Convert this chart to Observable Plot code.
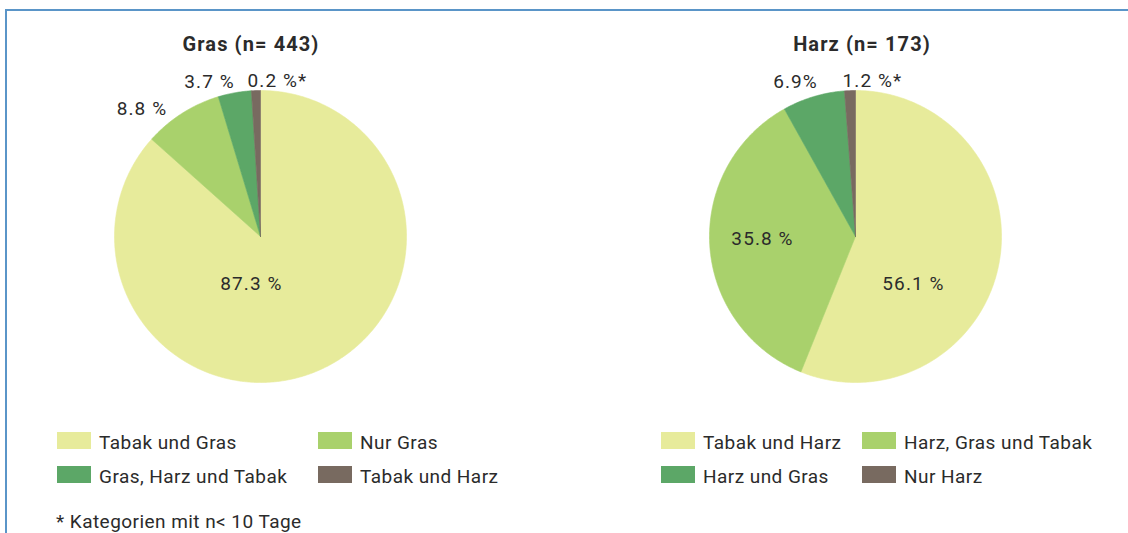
<!DOCTYPE html>
<html>
<head>
<meta charset="utf-8">
<script src="https://cdn.jsdelivr.net/npm/d3@7"></script>
<script src="https://cdn.jsdelivr.net/npm/@observablehq/plot@0.6"></script>
<style>
  body { margin: 0; background: #ffffff; }
  #root { position: relative; width: 1128px; height: 533px; overflow: hidden; font-family: Roboto, "Noto Sans", sans-serif; color: #2b2b2b; }
  #frame { position: absolute; left: 5px; top: 9px; right: -10px; bottom: -10px; border-top: 2px solid #5a95c8; border-left: 2px solid #5a95c8; pointer-events: none; }
  .panel { position: absolute; top: 0; width: 564px; height: 400px; }
  .title { position: absolute; width: 300px; text-align: center; font-weight: 700; font-size: 20px; letter-spacing: 1.1px; line-height: 22px; top: 33px; color: #2b2b2b; }
  .swatch { position: absolute; width: 34px; height: 17px; }
  .ltext { position: absolute; font-size: 19px; letter-spacing: 0.45px; line-height: 19px; white-space: nowrap; color: #2b2b2b; }
  #note { position: absolute; left: 56px; top: 512px; font-size: 19px; letter-spacing: 0.45px; line-height: 19px; white-space: nowrap; color: #2b2b2b; }
</style>
</head>
<body>
<div id="root"></div>
<script>
// ---- data ----
const grasTitle = "Gras (n= 443)";
const grasCategories = ["Tabak und Gras", "Nur Gras", "Gras, Harz und Tabak", "Tabak und Harz"];
const grasValues = [87.3, 8.8, 3.7, 0.2];
const grasLabels = ["87.3 %", "8.8 %", "3.7 %", "0.2 %*"];

const harzTitle = "Harz (n= 173)";
const harzCategories = ["Tabak und Harz", "Harz, Gras und Tabak", "Harz und Gras", "Nur Harz"];
const harzValues = [56.1, 35.8, 6.9, 1.2];
const harzLabels = ["56.1 %", "35.8 %", "6.9%", "1.2 %*"];

const sliceColors = ["#e7eb9b", "#a9d16c", "#5ca767", "#786a60"];
const footnote = "* Kategorien mit n< 10 Tage";

// ---- layout (positions/styles only) ----
const R = 146;
const minVisibleShare = 1; // small slices are drawn at least this wide (in %)
const layouts = [
  { left: 0, cx: 260, cy: 236, titleX: 251,
    labelPos: [[-0.062, 0.324], [-0.812, -0.873], [-0.349, -1.058], [0.116, -1.065]],
    legendX: [57, 318], legendY: [432, 466] },
  { left: 564, cx: 291, cy: 236, titleX: 862 - 564,
    labelPos: [[0.397, 0.325], [-0.637, 0.017], [-0.411, -1.058], [0.116, -1.068]],
    legendX: [661 - 564, 862 - 564], legendY: [432, 466] }
];

const charts = [
  { title: grasTitle, categories: grasCategories, values: grasValues, labels: grasLabels },
  { title: harzTitle, categories: harzCategories, values: harzValues, labels: harzLabels }
];

const root = document.getElementById("root");

charts.forEach((c, ci) => {
  const L = layouts[ci];
  const drawn = c.values.map(v => Math.max(v, minVisibleShare));
  const pie = d3.pie().sort(null).value(d => d)(drawn);
  const rows = [];
  pie.forEach((p, i) => {
    const key = c.categories[i];
    rows.push({ key, x: 0, y: 0 });
    const steps = Math.max(2, Math.ceil((p.endAngle - p.startAngle) / (Math.PI / 360)));
    for (let s = 0; s <= steps; s++) {
      const a = p.startAngle + (p.endAngle - p.startAngle) * s / steps;
      rows.push({ key, x: Math.sin(a), y: -Math.cos(a) });
    }
    rows.push({ key, x: 0, y: 0 });
  });
  const labelRows = c.labels.map((t, i) => ({ text: t, x: L.labelPos[i][0], y: L.labelPos[i][1] }));

  const plot = Plot.plot({
    width: 564,
    height: 400,
    margin: 0,
    style: { background: "transparent", fontFamily: "Roboto, 'Noto Sans', sans-serif", overflow: "visible", letterSpacing: "1.1px" },
    x: { domain: [-1, 1], range: [L.cx - R, L.cx + R], axis: null },
    y: { domain: [-1, 1], range: [L.cy - R, L.cy + R], axis: null },
    color: { domain: c.categories, range: sliceColors },
    marks: [
      Plot.line(rows, { x: "x", y: "y", z: "key", fill: "key", stroke: "key", strokeWidth: 0.6, curve: "linear" }),
      Plot.text(labelRows, { x: "x", y: "y", text: "text", fontSize: 19, fill: "#2b2b2b", textAnchor: "middle", lineAnchor: "middle" })
    ]
  });
  const panel = document.createElement("div");
  panel.className = "panel";
  panel.style.left = L.left + "px";
  panel.appendChild(plot);
  root.appendChild(panel);

  const title = document.createElement("div");
  title.className = "title";
  title.textContent = c.title;
  title.style.left = (L.left + L.titleX - 150) + "px";
  root.appendChild(title);

  c.categories.forEach((cat, i) => {
    const col = i % 2, row = Math.floor(i / 2);
    const sw = document.createElement("div");
    sw.className = "swatch";
    sw.style.background = sliceColors[i];
    sw.style.left = (L.left + L.legendX[col]) + "px";
    sw.style.top = L.legendY[row] + "px";
    root.appendChild(sw);
    const tx = document.createElement("div");
    tx.className = "ltext";
    tx.textContent = cat;
    tx.style.left = (L.left + L.legendX[col] + 42) + "px";
    tx.style.top = (L.legendY[row] + 1) + "px";
    root.appendChild(tx);
  });
});

const note = document.createElement("div");
note.id = "note";
note.textContent = footnote;
root.appendChild(note);

const frame = document.createElement("div");
frame.id = "frame";
root.appendChild(frame);
</script>
</body>
</html>
